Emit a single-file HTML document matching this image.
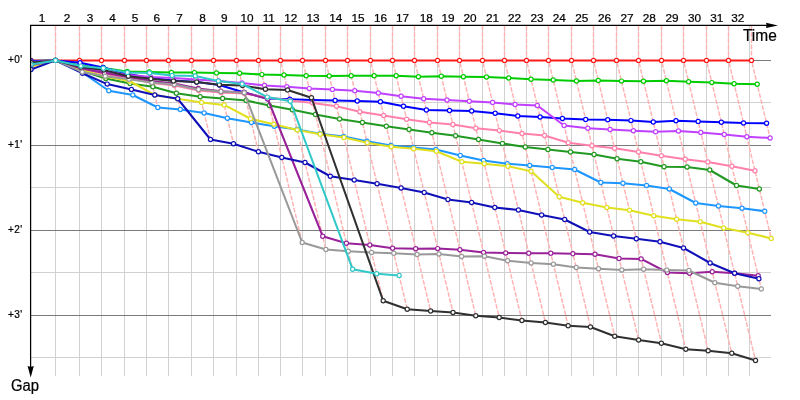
<!DOCTYPE html>
<html><head><meta charset="utf-8"><title>Gap chart</title><style>html,body{margin:0;padding:0;background:#fff}body{width:800px;height:400px;overflow:hidden}</style></head><body>
<svg width="800" height="400" viewBox="0 0 800 400" style="display:block">
<rect width="800" height="400" fill="#fff"/>
<path d="M55.5 25V376 M79.5 25V376 M101.5 25V376 M124.5 25V376 M146.5 25V376 M168.5 25V376 M191.5 25V376 M213.5 25V376 M236.5 25V376 M258.5 25V376 M280.5 25V376 M302.5 25V376 M325.5 25V376 M347.5 25V376 M370.5 25V376 M392.5 25V376 M414.5 25V376 M437.5 25V376 M459.5 25V376 M482.5 25V376 M504.5 25V376 M526.5 25V376 M548.5 25V376 M571.5 25V376 M593.5 25V376 M616.5 25V376 M638.5 25V376 M661.5 25V376 M683.5 25V376 M706.5 25V376 M728.5 25V376 M749.5 25V376" stroke="#d1d1d1" stroke-width="1" fill="none"/>
<path d="M31 102.5H771 M31 187.5H771 M31 272.5H771 M31 357.5H771" stroke="#d1d1d1" stroke-width="1" fill="none"/>
<path d="M31 60.5H771 M31 145.5H771 M31 230.5H771 M31 315.5H771" stroke="#7a7a7a" stroke-width="1" fill="none"/>
<path d="M55.5 26V60.4 M79.5 26V60.4L82.58 73.25 M101.5 26V60.4L108.78 90.75 M124.5 26V60.4L132.80 95 M146.5 26V60.4L157.80 107.5 M168.5 26V60.4L180.28 109.5 M191.5 26V60.4L210.48 139.5 M213.5 26V60.4L233.50 143.75 M236.5 26V60.4L258.42 151.75 M258.5 26V60.4L302.20 242.5 M280.5 26V60.4L325.88 249.5 M302.5 26V60.4L352.62 269.25 M325.5 26V60.4L383.18 300.75 M347.5 26V60.4L407.22 309.25 M370.5 26V60.4L430.64 311 M392.5 26V60.4L453.00 312.5 M414.5 26V60.4L475.78 315.75 M437.5 26V60.4L499.20 317.5 M459.5 26V60.4L521.92 320.5 M482.5 26V60.4L545.40 322.5 M504.5 26V60.4L568.18 325.75 M526.5 26V60.4L590.48 327 M548.5 26V60.4L614.70 336.25 M571.5 26V60.4L638.60 340 M593.5 26V60.4L661.38 343.25 M616.5 26V60.4L685.82 349.25 M638.5 26V60.4L708.18 350.75 M661.5 26V60.4L731.78 353.25 M683.5 26V60.4L755.52 360.5 M706.5 26V60.4L761.36 289 M728.5 26V60.4L771.22 238.4 M751.5 26V60.4L770.12 138" stroke="#ffb2b2" stroke-width="1.45" stroke-dasharray="4.7 1.5" fill="none"/>
<clipPath id="cp"><rect x="30.5" y="26" width="770" height="374"/></clipPath><g clip-path="url(#cp)">
<g stroke="#ff1a1a">
<polyline fill="none" stroke-width="2.05" stroke-linejoin="round" points="31.00,60.40 55.50,60.40 79.50,60.40 101.50,60.40 124.50,60.40 146.50,60.40 168.50,60.40 191.50,60.40 213.50,60.40 236.50,60.40 258.50,60.40 280.50,60.40 302.50,60.40 325.50,60.40 347.50,60.40 370.50,60.40 392.50,60.40 414.50,60.40 437.50,60.40 459.50,60.40 482.50,60.40 504.50,60.40 526.50,60.40 548.50,60.40 571.50,60.40 593.50,60.40 616.50,60.40 638.50,60.40 661.50,60.40 683.50,60.40 706.50,60.40 728.50,60.40 751.50,60.40"/>
<g fill="#fff" stroke-width="1.2"><circle cx="31.00" cy="60.40" r="2.08"/><circle cx="55.50" cy="60.40" r="2.08"/><circle cx="79.50" cy="60.40" r="2.08"/><circle cx="101.50" cy="60.40" r="2.08"/><circle cx="124.50" cy="60.40" r="2.08"/><circle cx="146.50" cy="60.40" r="2.08"/><circle cx="168.50" cy="60.40" r="2.08"/><circle cx="191.50" cy="60.40" r="2.08"/><circle cx="213.50" cy="60.40" r="2.08"/><circle cx="236.50" cy="60.40" r="2.08"/><circle cx="258.50" cy="60.40" r="2.08"/><circle cx="280.50" cy="60.40" r="2.08"/><circle cx="302.50" cy="60.40" r="2.08"/><circle cx="325.50" cy="60.40" r="2.08"/><circle cx="347.50" cy="60.40" r="2.08"/><circle cx="370.50" cy="60.40" r="2.08"/><circle cx="392.50" cy="60.40" r="2.08"/><circle cx="414.50" cy="60.40" r="2.08"/><circle cx="437.50" cy="60.40" r="2.08"/><circle cx="459.50" cy="60.40" r="2.08"/><circle cx="482.50" cy="60.40" r="2.08"/><circle cx="504.50" cy="60.40" r="2.08"/><circle cx="526.50" cy="60.40" r="2.08"/><circle cx="548.50" cy="60.40" r="2.08"/><circle cx="571.50" cy="60.40" r="2.08"/><circle cx="593.50" cy="60.40" r="2.08"/><circle cx="616.50" cy="60.40" r="2.08"/><circle cx="638.50" cy="60.40" r="2.08"/><circle cx="661.50" cy="60.40" r="2.08"/><circle cx="683.50" cy="60.40" r="2.08"/><circle cx="706.50" cy="60.40" r="2.08"/><circle cx="728.50" cy="60.40" r="2.08"/><circle cx="751.50" cy="60.40" r="2.08"/></g>
</g>
<g stroke="#00cc00">
<polyline fill="none" stroke-width="2.05" stroke-linejoin="round" points="31.00,61.00 55.50,60.40 80.72,65.50 103.32,68.00 127.16,71.50 149.28,72.00 171.38,72.40 194.43,72.60 216.50,72.90 239.60,73.30 261.91,74.60 284.00,75.00 306.17,75.70 329.22,75.90 351.18,75.75 374.18,75.75 396.18,75.75 418.42,76.75 441.30,76.25 463.42,76.75 486.48,77.00 508.72,78.00 531.02,79.25 553.20,80.00 576.44,81.00 598.32,80.50 621.47,81.10 643.50,81.25 666.38,80.75 688.62,81.75 711.83,82.60 734.10,83.75 757.22,84.25"/>
<g fill="#fff" stroke-width="1.2"><circle cx="31.00" cy="61.00" r="2.08"/><circle cx="55.50" cy="60.40" r="2.08"/><circle cx="80.72" cy="65.50" r="2.08"/><circle cx="103.32" cy="68.00" r="2.08"/><circle cx="127.16" cy="71.50" r="2.08"/><circle cx="149.28" cy="72.00" r="2.08"/><circle cx="171.38" cy="72.40" r="2.08"/><circle cx="194.43" cy="72.60" r="2.08"/><circle cx="216.50" cy="72.90" r="2.08"/><circle cx="239.60" cy="73.30" r="2.08"/><circle cx="261.91" cy="74.60" r="2.08"/><circle cx="284.00" cy="75.00" r="2.08"/><circle cx="306.17" cy="75.70" r="2.08"/><circle cx="329.22" cy="75.90" r="2.08"/><circle cx="351.18" cy="75.75" r="2.08"/><circle cx="374.18" cy="75.75" r="2.08"/><circle cx="396.18" cy="75.75" r="2.08"/><circle cx="418.42" cy="76.75" r="2.08"/><circle cx="441.30" cy="76.25" r="2.08"/><circle cx="463.42" cy="76.75" r="2.08"/><circle cx="486.48" cy="77.00" r="2.08"/><circle cx="508.72" cy="78.00" r="2.08"/><circle cx="531.02" cy="79.25" r="2.08"/><circle cx="553.20" cy="80.00" r="2.08"/><circle cx="576.44" cy="81.00" r="2.08"/><circle cx="598.32" cy="80.50" r="2.08"/><circle cx="621.47" cy="81.10" r="2.08"/><circle cx="643.50" cy="81.25" r="2.08"/><circle cx="666.38" cy="80.75" r="2.08"/><circle cx="688.62" cy="81.75" r="2.08"/><circle cx="711.83" cy="82.60" r="2.08"/><circle cx="734.10" cy="83.75" r="2.08"/><circle cx="757.22" cy="84.25" r="2.08"/></g>
</g>
<g stroke="#0000ff">
<polyline fill="none" stroke-width="2.05" stroke-linejoin="round" points="31.00,61.00 55.50,60.40 80.06,62.75 103.20,67.50 127.76,74.00 150.72,78.00 173.32,80.50 196.68,82.00 219.40,85.00 244.20,92.50 267.64,98.50 289.82,99.25 312.00,100.00 335.12,100.50 357.24,101.00 380.42,101.75 403.50,106.25 426.40,110.00 449.52,110.50 471.64,111.00 495.18,113.25 517.84,116.00 540.08,117.00 562.44,118.50 585.68,119.50 607.74,119.75 630.95,120.60 653.28,122.00 675.98,120.75 698.14,121.40 721.34,122.25 743.52,123.00 766.58,123.25"/>
<g fill="#fff" stroke-width="1.2"><circle cx="31.00" cy="61.00" r="2.08"/><circle cx="55.50" cy="60.40" r="2.08"/><circle cx="80.06" cy="62.75" r="2.08"/><circle cx="103.20" cy="67.50" r="2.08"/><circle cx="127.76" cy="74.00" r="2.08"/><circle cx="150.72" cy="78.00" r="2.08"/><circle cx="173.32" cy="80.50" r="2.08"/><circle cx="196.68" cy="82.00" r="2.08"/><circle cx="219.40" cy="85.00" r="2.08"/><circle cx="244.20" cy="92.50" r="2.08"/><circle cx="267.64" cy="98.50" r="2.08"/><circle cx="289.82" cy="99.25" r="2.08"/><circle cx="312.00" cy="100.00" r="2.08"/><circle cx="335.12" cy="100.50" r="2.08"/><circle cx="357.24" cy="101.00" r="2.08"/><circle cx="380.42" cy="101.75" r="2.08"/><circle cx="403.50" cy="106.25" r="2.08"/><circle cx="426.40" cy="110.00" r="2.08"/><circle cx="449.52" cy="110.50" r="2.08"/><circle cx="471.64" cy="111.00" r="2.08"/><circle cx="495.18" cy="113.25" r="2.08"/><circle cx="517.84" cy="116.00" r="2.08"/><circle cx="540.08" cy="117.00" r="2.08"/><circle cx="562.44" cy="118.50" r="2.08"/><circle cx="585.68" cy="119.50" r="2.08"/><circle cx="607.74" cy="119.75" r="2.08"/><circle cx="630.95" cy="120.60" r="2.08"/><circle cx="653.28" cy="122.00" r="2.08"/><circle cx="675.98" cy="120.75" r="2.08"/><circle cx="698.14" cy="121.40" r="2.08"/><circle cx="721.34" cy="122.25" r="2.08"/><circle cx="743.52" cy="123.00" r="2.08"/><circle cx="766.58" cy="123.25" r="2.08"/></g>
</g>
<g stroke="#c040ff">
<polyline fill="none" stroke-width="2.05" stroke-linejoin="round" points="31.00,62.00 55.50,60.40 81.20,67.50 104.16,71.50 128.00,75.00 150.48,77.00 172.72,78.00 196.08,79.50 218.44,81.00 241.92,83.00 264.50,85.40 286.82,86.75 309.27,88.60 332.46,89.40 354.78,90.75 378.32,93.00 401.10,96.25 423.70,98.75 447.00,100.00 469.30,101.25 492.60,102.50 515.08,104.50 537.32,105.50 564.12,125.50 587.78,128.25 610.08,129.50 633.38,130.75 655.62,131.75 678.44,131.00 700.80,132.50 724.28,134.50 746.82,136.75 770.12,138.00"/>
<g fill="#fff" stroke-width="1.2"><circle cx="31.00" cy="62.00" r="2.08"/><circle cx="55.50" cy="60.40" r="2.08"/><circle cx="81.20" cy="67.50" r="2.08"/><circle cx="104.16" cy="71.50" r="2.08"/><circle cx="128.00" cy="75.00" r="2.08"/><circle cx="150.48" cy="77.00" r="2.08"/><circle cx="172.72" cy="78.00" r="2.08"/><circle cx="196.08" cy="79.50" r="2.08"/><circle cx="218.44" cy="81.00" r="2.08"/><circle cx="241.92" cy="83.00" r="2.08"/><circle cx="264.50" cy="85.40" r="2.08"/><circle cx="286.82" cy="86.75" r="2.08"/><circle cx="309.27" cy="88.60" r="2.08"/><circle cx="332.46" cy="89.40" r="2.08"/><circle cx="354.78" cy="90.75" r="2.08"/><circle cx="378.32" cy="93.00" r="2.08"/><circle cx="401.10" cy="96.25" r="2.08"/><circle cx="423.70" cy="98.75" r="2.08"/><circle cx="447.00" cy="100.00" r="2.08"/><circle cx="469.30" cy="101.25" r="2.08"/><circle cx="492.60" cy="102.50" r="2.08"/><circle cx="515.08" cy="104.50" r="2.08"/><circle cx="537.32" cy="105.50" r="2.08"/><circle cx="564.12" cy="125.50" r="2.08"/><circle cx="587.78" cy="128.25" r="2.08"/><circle cx="610.08" cy="129.50" r="2.08"/><circle cx="633.38" cy="130.75" r="2.08"/><circle cx="655.62" cy="131.75" r="2.08"/><circle cx="678.44" cy="131.00" r="2.08"/><circle cx="700.80" cy="132.50" r="2.08"/><circle cx="724.28" cy="134.50" r="2.08"/><circle cx="746.82" cy="136.75" r="2.08"/><circle cx="770.12" cy="138.00" r="2.08"/></g>
</g>
<g stroke="#ff80aa">
<polyline fill="none" stroke-width="2.05" stroke-linejoin="round" points="31.00,63.00 55.50,60.40 81.56,69.00 104.76,74.00 128.72,78.00 151.92,83.00 174.52,85.50 198.72,90.50 221.20,92.50 244.44,93.50 267.40,97.50 290.15,100.60 312.72,103.00 336.50,106.25 359.82,111.75 383.72,115.50 406.62,119.25 429.40,122.50 452.88,124.50 475.78,128.25 499.35,130.60 522.04,133.50 544.52,135.50 568.26,142.75 591.98,145.75 614.58,148.25 638.48,152.00 661.38,155.75 685.22,159.25 707.88,162.00 731.90,166.25 754.98,170.75"/>
<g fill="#fff" stroke-width="1.2"><circle cx="31.00" cy="63.00" r="2.08"/><circle cx="55.50" cy="60.40" r="2.08"/><circle cx="81.56" cy="69.00" r="2.08"/><circle cx="104.76" cy="74.00" r="2.08"/><circle cx="128.72" cy="78.00" r="2.08"/><circle cx="151.92" cy="83.00" r="2.08"/><circle cx="174.52" cy="85.50" r="2.08"/><circle cx="198.72" cy="90.50" r="2.08"/><circle cx="221.20" cy="92.50" r="2.08"/><circle cx="244.44" cy="93.50" r="2.08"/><circle cx="267.40" cy="97.50" r="2.08"/><circle cx="290.15" cy="100.60" r="2.08"/><circle cx="312.72" cy="103.00" r="2.08"/><circle cx="336.50" cy="106.25" r="2.08"/><circle cx="359.82" cy="111.75" r="2.08"/><circle cx="383.72" cy="115.50" r="2.08"/><circle cx="406.62" cy="119.25" r="2.08"/><circle cx="429.40" cy="122.50" r="2.08"/><circle cx="452.88" cy="124.50" r="2.08"/><circle cx="475.78" cy="128.25" r="2.08"/><circle cx="499.35" cy="130.60" r="2.08"/><circle cx="522.04" cy="133.50" r="2.08"/><circle cx="544.52" cy="135.50" r="2.08"/><circle cx="568.26" cy="142.75" r="2.08"/><circle cx="591.98" cy="145.75" r="2.08"/><circle cx="614.58" cy="148.25" r="2.08"/><circle cx="638.48" cy="152.00" r="2.08"/><circle cx="661.38" cy="155.75" r="2.08"/><circle cx="685.22" cy="159.25" r="2.08"/><circle cx="707.88" cy="162.00" r="2.08"/><circle cx="731.90" cy="166.25" r="2.08"/><circle cx="754.98" cy="170.75" r="2.08"/></g>
</g>
<g stroke="#229922">
<polyline fill="none" stroke-width="2.05" stroke-linejoin="round" points="31.00,64.00 55.50,60.40 82.04,71.00 105.84,78.50 130.02,83.40 152.82,86.75 176.38,93.25 200.21,96.70 222.62,98.40 246.12,100.50 269.32,105.50 292.34,109.75 315.48,114.50 339.56,119.00 362.40,122.50 386.30,126.25 409.08,129.50 431.86,132.75 455.58,135.75 478.48,139.50 502.44,143.50 525.28,147.00 547.88,149.50 570.48,152.00 594.08,154.50 617.10,158.75 640.82,161.75 664.02,166.75 687.08,167.00 709.80,170.00 736.52,185.50 759.36,189.00"/>
<g fill="#fff" stroke-width="1.2"><circle cx="31.00" cy="64.00" r="2.08"/><circle cx="55.50" cy="60.40" r="2.08"/><circle cx="82.04" cy="71.00" r="2.08"/><circle cx="105.84" cy="78.50" r="2.08"/><circle cx="130.02" cy="83.40" r="2.08"/><circle cx="152.82" cy="86.75" r="2.08"/><circle cx="176.38" cy="93.25" r="2.08"/><circle cx="200.21" cy="96.70" r="2.08"/><circle cx="222.62" cy="98.40" r="2.08"/><circle cx="246.12" cy="100.50" r="2.08"/><circle cx="269.32" cy="105.50" r="2.08"/><circle cx="292.34" cy="109.75" r="2.08"/><circle cx="315.48" cy="114.50" r="2.08"/><circle cx="339.56" cy="119.00" r="2.08"/><circle cx="362.40" cy="122.50" r="2.08"/><circle cx="386.30" cy="126.25" r="2.08"/><circle cx="409.08" cy="129.50" r="2.08"/><circle cx="431.86" cy="132.75" r="2.08"/><circle cx="455.58" cy="135.75" r="2.08"/><circle cx="478.48" cy="139.50" r="2.08"/><circle cx="502.44" cy="143.50" r="2.08"/><circle cx="525.28" cy="147.00" r="2.08"/><circle cx="547.88" cy="149.50" r="2.08"/><circle cx="570.48" cy="152.00" r="2.08"/><circle cx="594.08" cy="154.50" r="2.08"/><circle cx="617.10" cy="158.75" r="2.08"/><circle cx="640.82" cy="161.75" r="2.08"/><circle cx="664.02" cy="166.75" r="2.08"/><circle cx="687.08" cy="167.00" r="2.08"/><circle cx="709.80" cy="170.00" r="2.08"/><circle cx="736.52" cy="185.50" r="2.08"/><circle cx="759.36" cy="189.00" r="2.08"/></g>
</g>
<g stroke="#1e96ff">
<polyline fill="none" stroke-width="2.05" stroke-linejoin="round" points="31.00,65.00 55.50,60.40 82.40,72.50 108.78,90.75 132.80,95.00 157.80,107.50 180.28,109.50 204.12,113.00 227.38,118.25 251.40,122.50 274.30,126.25 297.08,129.50 320.10,133.75 343.76,136.50 366.90,141.25 390.92,145.50 413.40,147.50 435.88,149.50 460.32,155.50 483.52,160.50 507.30,163.75 529.72,165.50 552.20,167.50 574.68,169.50 600.80,182.50 622.98,183.25 646.52,185.50 669.36,189.00 695.72,203.00 718.44,206.00 741.98,208.25 764.69,211.20"/>
<g fill="#fff" stroke-width="1.2"><circle cx="31.00" cy="65.00" r="2.08"/><circle cx="55.50" cy="60.40" r="2.08"/><circle cx="82.40" cy="72.50" r="2.08"/><circle cx="108.78" cy="90.75" r="2.08"/><circle cx="132.80" cy="95.00" r="2.08"/><circle cx="157.80" cy="107.50" r="2.08"/><circle cx="180.28" cy="109.50" r="2.08"/><circle cx="204.12" cy="113.00" r="2.08"/><circle cx="227.38" cy="118.25" r="2.08"/><circle cx="251.40" cy="122.50" r="2.08"/><circle cx="274.30" cy="126.25" r="2.08"/><circle cx="297.08" cy="129.50" r="2.08"/><circle cx="320.10" cy="133.75" r="2.08"/><circle cx="343.76" cy="136.50" r="2.08"/><circle cx="366.90" cy="141.25" r="2.08"/><circle cx="390.92" cy="145.50" r="2.08"/><circle cx="413.40" cy="147.50" r="2.08"/><circle cx="435.88" cy="149.50" r="2.08"/><circle cx="460.32" cy="155.50" r="2.08"/><circle cx="483.52" cy="160.50" r="2.08"/><circle cx="507.30" cy="163.75" r="2.08"/><circle cx="529.72" cy="165.50" r="2.08"/><circle cx="552.20" cy="167.50" r="2.08"/><circle cx="574.68" cy="169.50" r="2.08"/><circle cx="600.80" cy="182.50" r="2.08"/><circle cx="622.98" cy="183.25" r="2.08"/><circle cx="646.52" cy="185.50" r="2.08"/><circle cx="669.36" cy="189.00" r="2.08"/><circle cx="695.72" cy="203.00" r="2.08"/><circle cx="718.44" cy="206.00" r="2.08"/><circle cx="741.98" cy="208.25" r="2.08"/><circle cx="764.69" cy="211.20" r="2.08"/></g>
</g>
<g stroke="#e0e020">
<polyline fill="none" stroke-width="2.05" stroke-linejoin="round" points="31.00,66.50 55.50,60.40 81.80,70.00 105.36,76.50 129.44,81.00 154.80,95.00 177.70,98.75 201.58,102.40 224.18,104.90 250.50,118.75 273.82,124.25 297.20,130.00 320.22,134.25 344.00,137.50 367.26,142.75 391.22,146.75 413.70,148.75 436.30,151.25 461.82,161.75 484.30,163.75 507.90,166.25 531.10,171.25 559.22,196.75 582.66,202.75 606.80,207.50 629.46,210.25 653.78,215.75 676.62,219.25 700.22,221.75 723.72,228.00 747.85,232.70 771.22,238.40"/>
<g fill="#fff" stroke-width="1.2"><circle cx="31.00" cy="66.50" r="2.08"/><circle cx="55.50" cy="60.40" r="2.08"/><circle cx="81.80" cy="70.00" r="2.08"/><circle cx="105.36" cy="76.50" r="2.08"/><circle cx="129.44" cy="81.00" r="2.08"/><circle cx="154.80" cy="95.00" r="2.08"/><circle cx="177.70" cy="98.75" r="2.08"/><circle cx="201.58" cy="102.40" r="2.08"/><circle cx="224.18" cy="104.90" r="2.08"/><circle cx="250.50" cy="118.75" r="2.08"/><circle cx="273.82" cy="124.25" r="2.08"/><circle cx="297.20" cy="130.00" r="2.08"/><circle cx="320.22" cy="134.25" r="2.08"/><circle cx="344.00" cy="137.50" r="2.08"/><circle cx="367.26" cy="142.75" r="2.08"/><circle cx="391.22" cy="146.75" r="2.08"/><circle cx="413.70" cy="148.75" r="2.08"/><circle cx="436.30" cy="151.25" r="2.08"/><circle cx="461.82" cy="161.75" r="2.08"/><circle cx="484.30" cy="163.75" r="2.08"/><circle cx="507.90" cy="166.25" r="2.08"/><circle cx="531.10" cy="171.25" r="2.08"/><circle cx="559.22" cy="196.75" r="2.08"/><circle cx="582.66" cy="202.75" r="2.08"/><circle cx="606.80" cy="207.50" r="2.08"/><circle cx="629.46" cy="210.25" r="2.08"/><circle cx="653.78" cy="215.75" r="2.08"/><circle cx="676.62" cy="219.25" r="2.08"/><circle cx="700.22" cy="221.75" r="2.08"/><circle cx="723.72" cy="228.00" r="2.08"/><circle cx="747.85" cy="232.70" r="2.08"/><circle cx="771.22" cy="238.40" r="2.08"/></g>
</g>
<g stroke="#992299">
<polyline fill="none" stroke-width="2.05" stroke-linejoin="round" points="31.00,65.00 55.50,60.40 81.44,68.50 104.52,73.00 128.48,77.00 151.44,81.00 174.04,83.50 198.24,88.50 220.90,91.25 244.20,92.50 267.76,99.00 322.70,236.25 346.38,243.25 369.80,245.00 392.58,248.25 415.70,248.75 437.67,248.60 459.94,249.75 483.60,252.50 505.72,253.00 528.78,253.25 550.78,253.25 572.90,253.75 595.02,254.25 619.04,258.50 641.14,258.90 667.40,272.50 689.58,273.25 712.22,271.75 734.58,273.25 758.18,275.75"/>
<g fill="#fff" stroke-width="1.2"><circle cx="31.00" cy="65.00" r="2.08"/><circle cx="55.50" cy="60.40" r="2.08"/><circle cx="81.44" cy="68.50" r="2.08"/><circle cx="104.52" cy="73.00" r="2.08"/><circle cx="128.48" cy="77.00" r="2.08"/><circle cx="151.44" cy="81.00" r="2.08"/><circle cx="174.04" cy="83.50" r="2.08"/><circle cx="198.24" cy="88.50" r="2.08"/><circle cx="220.90" cy="91.25" r="2.08"/><circle cx="244.20" cy="92.50" r="2.08"/><circle cx="267.76" cy="99.00" r="2.08"/><circle cx="322.70" cy="236.25" r="2.08"/><circle cx="346.38" cy="243.25" r="2.08"/><circle cx="369.80" cy="245.00" r="2.08"/><circle cx="392.58" cy="248.25" r="2.08"/><circle cx="415.70" cy="248.75" r="2.08"/><circle cx="437.67" cy="248.60" r="2.08"/><circle cx="459.94" cy="249.75" r="2.08"/><circle cx="483.60" cy="252.50" r="2.08"/><circle cx="505.72" cy="253.00" r="2.08"/><circle cx="528.78" cy="253.25" r="2.08"/><circle cx="550.78" cy="253.25" r="2.08"/><circle cx="572.90" cy="253.75" r="2.08"/><circle cx="595.02" cy="254.25" r="2.08"/><circle cx="619.04" cy="258.50" r="2.08"/><circle cx="641.14" cy="258.90" r="2.08"/><circle cx="667.40" cy="272.50" r="2.08"/><circle cx="689.58" cy="273.25" r="2.08"/><circle cx="712.22" cy="271.75" r="2.08"/><circle cx="734.58" cy="273.25" r="2.08"/><circle cx="758.18" cy="275.75" r="2.08"/></g>
</g>
<g stroke="#1010b8">
<polyline fill="none" stroke-width="2.05" stroke-linejoin="round" points="31.00,69.50 55.50,60.40 82.58,73.25 107.19,84.10 131.46,89.40 154.80,95.00 177.70,98.75 210.48,139.50 233.50,143.75 258.42,151.75 281.80,157.50 305.00,162.50 330.30,176.25 354.20,180.00 377.10,183.75 401.12,188.00 424.20,192.50 447.91,199.60 471.60,202.50 494.80,207.50 518.40,210.00 541.60,215.00 564.68,219.50 589.68,232.00 613.64,236.00 636.30,238.75 660.02,241.75 683.52,248.00 710.12,263.00 734.58,273.25 758.90,278.75"/>
<g fill="#fff" stroke-width="1.2"><circle cx="31.00" cy="69.50" r="2.08"/><circle cx="55.50" cy="60.40" r="2.08"/><circle cx="82.58" cy="73.25" r="2.08"/><circle cx="107.19" cy="84.10" r="2.08"/><circle cx="131.46" cy="89.40" r="2.08"/><circle cx="154.80" cy="95.00" r="2.08"/><circle cx="177.70" cy="98.75" r="2.08"/><circle cx="210.48" cy="139.50" r="2.08"/><circle cx="233.50" cy="143.75" r="2.08"/><circle cx="258.42" cy="151.75" r="2.08"/><circle cx="281.80" cy="157.50" r="2.08"/><circle cx="305.00" cy="162.50" r="2.08"/><circle cx="330.30" cy="176.25" r="2.08"/><circle cx="354.20" cy="180.00" r="2.08"/><circle cx="377.10" cy="183.75" r="2.08"/><circle cx="401.12" cy="188.00" r="2.08"/><circle cx="424.20" cy="192.50" r="2.08"/><circle cx="447.91" cy="199.60" r="2.08"/><circle cx="471.60" cy="202.50" r="2.08"/><circle cx="494.80" cy="207.50" r="2.08"/><circle cx="518.40" cy="210.00" r="2.08"/><circle cx="541.60" cy="215.00" r="2.08"/><circle cx="564.68" cy="219.50" r="2.08"/><circle cx="589.68" cy="232.00" r="2.08"/><circle cx="613.64" cy="236.00" r="2.08"/><circle cx="636.30" cy="238.75" r="2.08"/><circle cx="660.02" cy="241.75" r="2.08"/><circle cx="683.52" cy="248.00" r="2.08"/><circle cx="710.12" cy="263.00" r="2.08"/><circle cx="734.58" cy="273.25" r="2.08"/><circle cx="758.90" cy="278.75" r="2.08"/></g>
</g>
<g stroke="#999999">
<polyline fill="none" stroke-width="2.05" stroke-linejoin="round" points="31.00,64.00 55.50,60.40 82.31,72.10 105.30,76.25 129.01,79.20 151.80,82.50 174.26,84.40 198.51,89.60 220.99,91.60 244.26,92.75 302.20,242.50 325.88,249.50 348.30,251.25 371.60,252.50 393.78,253.25 417.08,254.50 438.96,254.00 461.56,256.50 484.50,256.25 507.58,260.75 531.12,263.00 553.42,264.25 576.20,267.50 598.50,268.75 621.80,270.00 643.62,269.25 666.80,270.00 688.92,270.50 714.86,282.75 737.70,286.25 761.36,289.00"/>
<g fill="#fff" stroke-width="1.2"><circle cx="31.00" cy="64.00" r="2.08"/><circle cx="55.50" cy="60.40" r="2.08"/><circle cx="82.31" cy="72.10" r="2.08"/><circle cx="105.30" cy="76.25" r="2.08"/><circle cx="129.01" cy="79.20" r="2.08"/><circle cx="151.80" cy="82.50" r="2.08"/><circle cx="174.26" cy="84.40" r="2.08"/><circle cx="198.51" cy="89.60" r="2.08"/><circle cx="220.99" cy="91.60" r="2.08"/><circle cx="244.26" cy="92.75" r="2.08"/><circle cx="302.20" cy="242.50" r="2.08"/><circle cx="325.88" cy="249.50" r="2.08"/><circle cx="348.30" cy="251.25" r="2.08"/><circle cx="371.60" cy="252.50" r="2.08"/><circle cx="393.78" cy="253.25" r="2.08"/><circle cx="417.08" cy="254.50" r="2.08"/><circle cx="438.96" cy="254.00" r="2.08"/><circle cx="461.56" cy="256.50" r="2.08"/><circle cx="484.50" cy="256.25" r="2.08"/><circle cx="507.58" cy="260.75" r="2.08"/><circle cx="531.12" cy="263.00" r="2.08"/><circle cx="553.42" cy="264.25" r="2.08"/><circle cx="576.20" cy="267.50" r="2.08"/><circle cx="598.50" cy="268.75" r="2.08"/><circle cx="621.80" cy="270.00" r="2.08"/><circle cx="643.62" cy="269.25" r="2.08"/><circle cx="666.80" cy="270.00" r="2.08"/><circle cx="688.92" cy="270.50" r="2.08"/><circle cx="714.86" cy="282.75" r="2.08"/><circle cx="737.70" cy="286.25" r="2.08"/><circle cx="761.36" cy="289.00" r="2.08"/></g>
</g>
<g stroke="#303030">
<polyline fill="none" stroke-width="2.05" stroke-linejoin="round" points="31.00,62.50 55.50,60.40 81.08,67.00 103.80,70.00 128.29,76.20 150.90,78.75 173.44,81.00 196.68,82.00 219.34,84.75 242.55,85.60 265.41,89.20 287.60,90.00 311.46,97.75 383.18,300.75 407.22,309.25 430.64,311.00 453.00,312.50 475.78,315.75 499.20,317.50 521.92,320.50 545.40,322.50 568.18,325.75 590.48,327.00 614.70,336.25 638.60,340.00 661.38,343.25 685.82,349.25 708.18,350.75 731.78,353.25 755.52,360.50"/>
<g fill="#fff" stroke-width="1.2"><circle cx="31.00" cy="62.50" r="2.08"/><circle cx="55.50" cy="60.40" r="2.08"/><circle cx="81.08" cy="67.00" r="2.08"/><circle cx="103.80" cy="70.00" r="2.08"/><circle cx="128.29" cy="76.20" r="2.08"/><circle cx="150.90" cy="78.75" r="2.08"/><circle cx="173.44" cy="81.00" r="2.08"/><circle cx="196.68" cy="82.00" r="2.08"/><circle cx="219.34" cy="84.75" r="2.08"/><circle cx="242.55" cy="85.60" r="2.08"/><circle cx="265.41" cy="89.20" r="2.08"/><circle cx="287.60" cy="90.00" r="2.08"/><circle cx="311.46" cy="97.75" r="2.08"/><circle cx="383.18" cy="300.75" r="2.08"/><circle cx="407.22" cy="309.25" r="2.08"/><circle cx="430.64" cy="311.00" r="2.08"/><circle cx="453.00" cy="312.50" r="2.08"/><circle cx="475.78" cy="315.75" r="2.08"/><circle cx="499.20" cy="317.50" r="2.08"/><circle cx="521.92" cy="320.50" r="2.08"/><circle cx="545.40" cy="322.50" r="2.08"/><circle cx="568.18" cy="325.75" r="2.08"/><circle cx="590.48" cy="327.00" r="2.08"/><circle cx="614.70" cy="336.25" r="2.08"/><circle cx="638.60" cy="340.00" r="2.08"/><circle cx="661.38" cy="343.25" r="2.08"/><circle cx="685.82" cy="349.25" r="2.08"/><circle cx="708.18" cy="350.75" r="2.08"/><circle cx="731.78" cy="353.25" r="2.08"/><circle cx="755.52" cy="360.50" r="2.08"/></g>
</g>
<g stroke="#30c8c8">
<polyline fill="none" stroke-width="2.05" stroke-linejoin="round" points="31.00,64.50 55.50,60.40 80.87,66.10 103.36,68.15 127.38,72.40 149.52,73.00 172.12,75.50 195.24,76.00 218.42,80.90 242.16,84.00 267.31,97.10 290.30,101.25 352.62,269.25 376.70,273.75 399.12,275.50"/>
<g fill="#fff" stroke-width="1.2"><circle cx="31.00" cy="64.50" r="2.08"/><circle cx="55.50" cy="60.40" r="2.08"/><circle cx="80.87" cy="66.10" r="2.08"/><circle cx="103.36" cy="68.15" r="2.08"/><circle cx="127.38" cy="72.40" r="2.08"/><circle cx="149.52" cy="73.00" r="2.08"/><circle cx="172.12" cy="75.50" r="2.08"/><circle cx="195.24" cy="76.00" r="2.08"/><circle cx="218.42" cy="80.90" r="2.08"/><circle cx="242.16" cy="84.00" r="2.08"/><circle cx="267.31" cy="97.10" r="2.08"/><circle cx="290.30" cy="101.25" r="2.08"/><circle cx="352.62" cy="269.25" r="2.08"/><circle cx="376.70" cy="273.75" r="2.08"/><circle cx="399.12" cy="275.50" r="2.08"/></g>
</g>
</g>
<path d="M30.6 25V367" stroke="#000" stroke-width="1.25" fill="none"/>
<path d="M30 25.4H767" stroke="#000" stroke-width="1.3" fill="none"/>
<path d="M778 25.4L766 22.7Q767.5 25.4 766 28.1Z" fill="#000"/>
<path d="M30.7 377.5L27.6 366Q30.7 367.5 33.8 366Z" fill="#000"/>
<g font-family="Liberation Sans, sans-serif" fill="#000" stroke="#000" stroke-width="0.22">
<g font-size="11.8px" text-anchor="middle"><text x="42" y="21.8">1</text><text x="67" y="21.8">2</text><text x="90" y="21.8">3</text><text x="112.5" y="21.8">4</text><text x="135" y="21.8">5</text><text x="156.75" y="21.8">6</text><text x="179.5" y="21.8">7</text><text x="202.5" y="21.8">8</text><text x="224.25" y="21.8">9</text><text x="247" y="21.8">10</text><text x="268.75" y="21.8">11</text><text x="290.75" y="21.8">12</text><text x="313" y="21.8">13</text><text x="335.75" y="21.8">14</text><text x="358" y="21.8">15</text><text x="380.5" y="21.8">16</text><text x="402.5" y="21.8">17</text><text x="426.25" y="21.8">18</text><text x="448" y="21.8">19</text><text x="470" y="21.8">20</text><text x="492.5" y="21.8">21</text><text x="514.5" y="21.8">22</text><text x="537" y="21.8">23</text><text x="559.25" y="21.8">24</text><text x="581.75" y="21.8">25</text><text x="604.5" y="21.8">26</text><text x="627" y="21.8">27</text><text x="649.25" y="21.8">28</text><text x="672" y="21.8">29</text><text x="694.5" y="21.8">30</text><text x="716.75" y="21.8">31</text><text x="737.75" y="21.8">32</text></g>
<g font-size="10px"><text x="8" y="62.7" textLength="14.2" lengthAdjust="spacing">+0'</text><text x="8" y="147.7" textLength="14.2" lengthAdjust="spacing">+1'</text><text x="8" y="232.7" textLength="14.2" lengthAdjust="spacing">+2'</text><text x="8" y="317.7" textLength="14.2" lengthAdjust="spacing">+3'</text></g>
<text x="743" y="40.6" font-size="16.2px" textLength="33.8" lengthAdjust="spacingAndGlyphs">Time</text>
<text x="11" y="390.5" font-size="16px" textLength="28" lengthAdjust="spacingAndGlyphs">Gap</text>
</g>
</svg>
</body></html>
